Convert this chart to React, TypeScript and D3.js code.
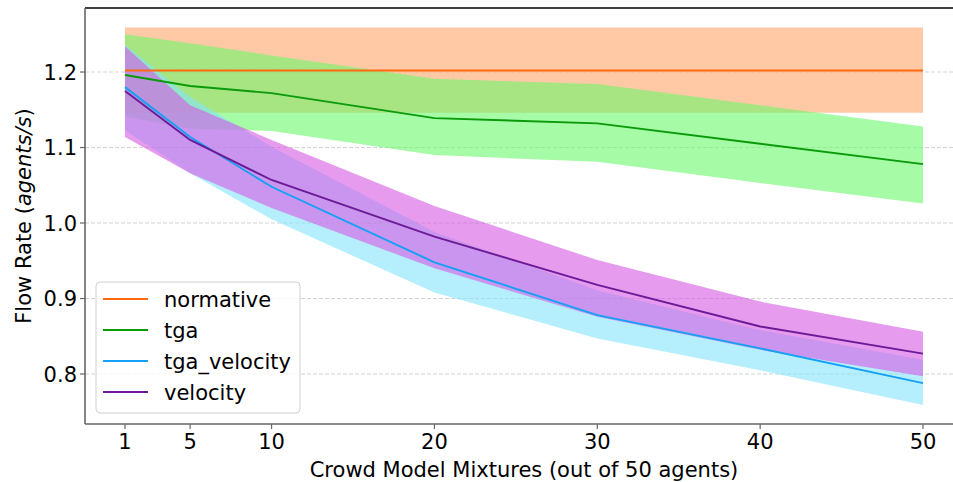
import React from "react";
import * as d3 from "d3";

const mixtures = [1, 5, 10, 20, 30, 40, 50];
const xTicks = [1, 5, 10, 20, 30, 40, 50];
const yTicks = [0.8, 0.9, 1.0, 1.1, 1.2];

const normativeMean = [1.202, 1.202, 1.202, 1.202, 1.202, 1.202, 1.202];
const normativeLow = [1.146, 1.146, 1.146, 1.146, 1.146, 1.146, 1.146];
const normativeHigh = [1.259, 1.259, 1.259, 1.259, 1.259, 1.259, 1.259];

const tgaMean = [1.196, 1.1815, 1.172, 1.139, 1.132, 1.105, 1.078];
const tgaLow = [1.141, 1.125, 1.122, 1.09, 1.081, 1.053, 1.026];
const tgaHigh = [1.25, 1.238, 1.222, 1.191, 1.184, 1.156, 1.128];

const tgaVelMean = [1.18, 1.114, 1.048, 0.948, 0.878, 0.834, 0.788];
const tgaVelLow = [1.123, 1.066, 1.005, 0.908, 0.847, 0.805, 0.759];
const tgaVelHigh = [1.236, 1.167, 1.101, 0.988, 0.911, 0.858, 0.819];

const velMean = [1.175, 1.11, 1.057, 0.982, 0.918, 0.863, 0.827];
const velLow = [1.114, 1.066, 1.02, 0.94, 0.876, 0.832, 0.797];
const velHigh = [1.234, 1.156, 1.11, 1.0225, 0.951, 0.896, 0.856];

const seriesNames = ["normative", "tga", "tga_velocity", "velocity"];
const lineColors = ["#ff6a10", "#0a9a0a", "#14a0f5", "#6b1a98"];
const bandColors = ["rgb(255,165,105)", "rgb(107,248,107)", "rgb(132,228,253)", "rgb(215,88,227)"];

const W = 953;
const H = 482;
const L = 85;
const T = 8;
const B = 424;
const R = 963;
const FONT = "DejaVu Sans, sans-serif";

export default function App() {
  const x = d3.scaleLinear().domain([-1.455, 52.455]).range([L, R]);
  const y = d3.scaleLinear().domain([0.7338, 1.2848]).range([B, T]);

  const series = [
    { mean: normativeMean, low: normativeLow, high: normativeHigh },
    { mean: tgaMean, low: tgaLow, high: tgaHigh },
    { mean: tgaVelMean, low: tgaVelLow, high: tgaVelHigh },
    { mean: velMean, low: velLow, high: velHigh },
  ];

  const area = (low: number[], high: number[]) =>
    d3
      .area<number>()
      .x((d) => x(d))
      .y0((_, i) => y(low[i]))
      .y1((_, i) => y(high[i]))(mixtures) || "";
  const line = (vals: number[]) =>
    d3
      .line<number>()
      .x((d) => x(d))
      .y((_, i) => y(vals[i]))(mixtures) || "";

  const legendX = 96;
  const legendY = 282;
  const legendRowY = [299, 330, 361, 392];

  return (
    <svg
      width={W}
      height={H}
      style={{ position: "absolute", left: 0, top: 0, background: "#fff" }}
      fontFamily={FONT}
    >
      <defs>
        <clipPath id="plot">
          <rect x={L} y={T} width={R - L} height={B - T} />
        </clipPath>
      </defs>
      {/* grid */}
      {yTicks.map((t) => (
        <line
          key={"g" + t}
          x1={L}
          x2={W}
          y1={y(t)}
          y2={y(t)}
          stroke="#d2d2d2"
          strokeWidth={1}
          strokeDasharray="4 2"
        />
      ))}
      <g clipPath="url(#plot)">
        {series.map((s, i) => (
          <path key={"a" + i} d={area(s.low, s.high)} fill={bandColors[i]} fillOpacity={0.6} stroke="none" />
        ))}
        {series.map((s, i) => (
          <path
            key={"l" + i}
            d={line(s.mean)}
            fill="none"
            stroke={lineColors[i]}
            strokeWidth={i === 0 ? 2.2 : 1.9}
          />
        ))}
      </g>
      {/* spines */}
      <line x1={L} x2={W} y1={T} y2={T} stroke="#000" strokeWidth={1.5} />
      <line x1={L} x2={L} y1={T} y2={B} stroke="#666" strokeWidth={1.6} />
      <line x1={L} x2={W} y1={B} y2={B} stroke="#666" strokeWidth={1.6} />
      {/* y ticks */}
      {yTicks.map((t) => (
        <g key={"yt" + t}>
          <line x1={L - 5} x2={L} y1={y(t)} y2={y(t)} stroke="#666" strokeWidth={1.2} />
          <text x={L - 8} y={y(t)} dy="0.36em" textAnchor="end" fontSize={21} fill="#000">
            {d3.format(".1f")(t)}
          </text>
        </g>
      ))}
      {/* x ticks */}
      {xTicks.map((t) => (
        <g key={"xt" + t}>
          <line x1={x(t)} x2={x(t)} y1={B} y2={B + 5} stroke="#666" strokeWidth={1.2} />
          <text x={x(t)} y={448.5} textAnchor="middle" fontSize={21} fill="#000">
            {t}
          </text>
        </g>
      ))}
      <text x={(L + R) / 2} y={476.5} textAnchor="middle" fontSize={21} fill="#000">
        Crowd Model Mixtures (out of 50 agents)
      </text>
      <text
        transform={`translate(31, ${(T + B) / 2}) rotate(-90)`}
        textAnchor="middle"
        fontSize={21}
        fill="#000"
      >
        Flow Rate (<tspan fontStyle="italic">agents/s</tspan>)
      </text>
      {/* legend */}
      <rect
        x={legendX}
        y={legendY}
        width={204}
        height={131}
        rx={4}
        fill="#fff"
        fillOpacity={0.8}
        stroke="#d0d0d0"
        strokeWidth={1}
      />
      {seriesNames.map((n, i) => (
        <g key={"lg" + n}>
          <line x1={103} x2={148} y1={legendRowY[i]} y2={legendRowY[i]} stroke={lineColors[i]} strokeWidth={2} />
          <text x={164} y={legendRowY[i] + 7.7} fontSize={21} fill="#000">
            {n}
          </text>
        </g>
      ))}
    </svg>
  );
}
